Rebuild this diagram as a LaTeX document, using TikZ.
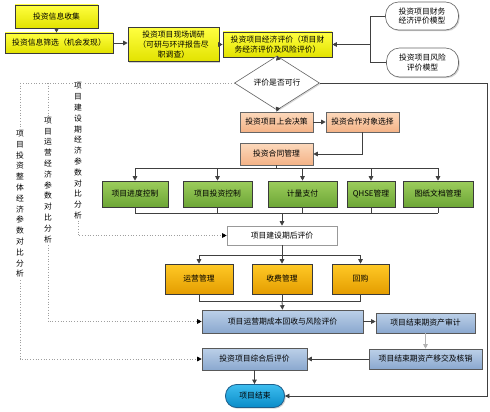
\documentclass[tikz,border=0pt]{standalone}
\usepackage{fontspec}
\setmainfont{Noto Sans CJK SC}
\usetikzlibrary{arrows.meta,shapes.geometric,shadows}
\definecolor{linec}{HTML}{404040}
\definecolor{bordc}{HTML}{3A3A3A}
\definecolor{ytop}{HTML}{FFFF40}
\definecolor{ybot}{HTML}{E2E200}
\definecolor{gtop}{HTML}{9CCD5C}
\definecolor{gbot}{HTML}{6DA636}
\definecolor{ptop}{HTML}{FCD9BC}
\definecolor{pbot}{HTML}{F4B286}
\definecolor{otop}{HTML}{FFC926}
\definecolor{obot}{HTML}{E49D00}
\definecolor{btop}{HTML}{BCD0E8}
\definecolor{bbot}{HTML}{8AA8CF}
\definecolor{ctop}{HTML}{3DBDEF}
\definecolor{cbot}{HTML}{0A8CC8}
\definecolor{cbord}{HTML}{1D5F8C}
\newcommand{\fsz}{\fontsize{7.8}{9.6}\selectfont}
\begin{document}
\begin{tikzpicture}[x=1pt,y=-1pt,
  sz/.style 2 args={minimum width=#1pt, minimum height=#2pt},
  boxbase/.style={draw=bordc, line width=0.6pt, inner sep=1pt, align=center, font=\fsz,
    drop shadow={shadow xshift=1.2pt, shadow yshift=-1.2pt, opacity=0.35}},
  ybox/.style={boxbase, top color=ytop, bottom color=ybot},
  gbox/.style={boxbase, top color=gtop, bottom color=gbot},
  pbox/.style={boxbase, draw=gray!80!black, top color=ptop, bottom color=pbot},
  obox/.style={boxbase, top color=otop, bottom color=obot},
  bbox/.style={boxbase, draw=gray!70!black, top color=btop, bottom color=bbot},
  wbox/.style={boxbase, draw=gray!80, fill=white},
  rbox/.style={boxbase, draw=gray!80!black, fill=white, rounded corners=13pt},
  ln/.style={draw=linec, line width=0.8pt},
  conn/.style={ln, -{Triangle[length=4.5pt,width=4.5pt]}},
  dotl/.style={draw=gray!75, dotted, line width=0.7pt},
  dotconn/.style={dotl, -{Triangle[length=4.5pt,width=4.5pt,color=black]}},
  vtext/.style={align=center, font=\fontsize{7.8}{10.8}\selectfont, fill=white, inner sep=1pt}
]
\fill[white] (0,0) rectangle (490,412);
\useasboundingbox (0,0) rectangle (490,412);

% top row
\node[ybox, sz={83}{23}] (b1) at (56.5,16.5) {投资信息收集};
\node[ybox, sz={108}{20}] (b2) at (59,43) {投资信息筛选（机会发现）};
\node[ybox, sz={91}{34}] (b3) at (173.5,44.5) {投资项目现场调研\\（可研与环评报告尽\\职调查）};
\node[ybox, sz={109}{25}] (b4) at (277.5,44.5) {投资项目经济评价（项目财\\务经济评价及风险评价）};
\node[rbox, sz={73}{28}] (r1) at (422,16) {投资项目财务\\经济评价模型};
\node[rbox, sz={72}{29}] (r2) at (422.5,62.5) {投资项目风险\\评价模型};

% diamond
\node[draw=gray!80!black, line width=0.6pt, fill=white, shape=diamond, minimum width=85pt, minimum height=30pt, inner sep=0pt, font=\fsz,
  drop shadow={shadow xshift=1.2pt, shadow yshift=-1.2pt, opacity=0.3}] (d) at (277,83) {评价是否可行};

% middle
\node[pbox, sz={73}{20}] (A) at (276.5,122) {投资项目上会决策};
\node[pbox, sz={73}{20}] (B) at (362.5,122) {投资合作对象选择};
\node[pbox, sz={73}{22}] (C) at (276.5,154) {投资合同管理};

\node[gbox, sz={66}{26}] (g1) at (135,194) {项目进度控制};
\node[gbox, sz={69}{26}] (g2) at (217.5,194) {项目投资控制};
\node[gbox, sz={69}{26}] (g3) at (302.5,194) {计量支付};
\node[gbox, sz={48}{26}] (g4) at (371,194) {QHSE管理};
\node[gbox, sz={70}{26}] (g5) at (438,194) {图纸文档管理};

\node[wbox, sz={110}{19}] (D) at (282,235.5) {项目建设期后评价};

\node[obox, sz={68}{30}] (o1) at (199,279) {运营管理};
\node[obox, sz={60}{30}] (o2) at (282,279) {收费管理};
\node[obox, sz={57}{30}] (o3) at (360.5,279) {回购};

\node[bbox, sz={161}{23}] (E) at (282.5,321.5) {项目运营期成本回收与风险评价};
\node[bbox, sz={99}{20}] (F) at (425.5,323) {项目结束期资产审计};
\node[bbox, sz={113}{20}] (G) at (425.5,359) {项目结束期资产移交及核销};
\node[bbox, sz={105}{22}] (H) at (254.5,359) {投资项目综合后评价};
\node[draw=cbord, line width=0.8pt, top color=ctop, bottom color=cbot, rounded corners=11pt,
  sz={59}{23}, inner sep=1pt, font=\fsz,
  drop shadow={shadow xshift=1.2pt, shadow yshift=-1.2pt, opacity=0.35}] (end) at (255,396) {项目结束};

% coordinates
\coordinate (jr) at (370,44.5);
\coordinate (rt) at (487,83);
\coordinate (c1) at (276.5,168);
\coordinate (c2) at (282,213);
\coordinate (c3) at (282,255);
\coordinate (c4) at (282,301);
\coordinate (k1) at (20,83);
\coordinate (k2) at (48,83);
\coordinate (k3) at (78,83);

% top connectors
\draw[conn] (b1.south) -- (b1.south |- b2.north);
\draw[conn] (b2.east) -- (b2.east -| b3.west);
\draw[conn] (b3.east) -- (b3.east -| b4.west);
\draw[ln] (r1.west) -- (r1.west -| jr) -- (r2.west -| jr) -- (r2.west);
\draw[conn] (jr) -- (jr -| b4.east);
\draw[conn] (b4.south) -- (d.north);
\draw[conn] (d.south) -- (A.north);
\draw[conn] (A.east) -- (B.west);
\draw[conn] (B.south) -- (B.south |- C.east) -- (C.east);

% green row
\draw[ln] (C.south) -- (c1);
\draw[ln] (g1.north |- c1) -- (g5.north |- c1);
\foreach \g in {g1,g2,g3,g4,g5} {\draw[conn] (\g.north |- c1) -- (\g.north);}
\foreach \g in {g1,g2,g3,g4,g5} {\draw[ln] (\g.south) -- (\g.south |- c2);}
\draw[ln] (g1.south |- c2) -- (g5.south |- c2);
\draw[conn] (c2) -- (D.north);

% gold row
\draw[ln] (D.south) -- (c3);
\draw[ln] (o1.north |- c3) -- (o3.north |- c3);
\foreach \o in {o1,o2,o3} {\draw[conn] (\o.north |- c3) -- (\o.north);}
\foreach \o in {o1,o2,o3} {\draw[ln] (\o.south) -- (\o.south |- c4);}
\draw[ln] (o1.south |- c4) -- (o3.south |- c4);
\draw[conn] (c4) -- (E.north);

% bottom
\draw[conn] (E.east) -- (E.east -| F.west);
\draw[conn, draw=gray!60] (F.south) -- (G.north);
\draw[conn] (G.west) -- (H.east);
\draw[conn] (H.south) -- (H.south |- end.north);
\draw[conn] (d.east) -- (rt) -- (rt |- end.east) -- (end.east);

% dotted feedback lines
\draw[dotl] (d.west) -- (k1);
\draw[dotconn] (k3) -- (k3 |- D.west) -- (D.west);
\draw[dotconn] (k2) -- (k2 |- E.west) -- (E.west);
\draw[dotconn] (k1) -- (k1 |- H.west) -- (H.west);

\node[vtext] (t3) at (78,151) {项\\目\\建\\设\\期\\经\\济\\参\\数\\对\\比\\分\\析};
\node[vtext] (t2) at (48,180) {项\\目\\运\\营\\经\\济\\参\\数\\对\\比\\分\\析};
\node[vtext] (t1) at (20,204) {项\\目\\投\\资\\整\\体\\经\\济\\参\\数\\对\\比\\分\\析};
\end{tikzpicture}
\end{document}
